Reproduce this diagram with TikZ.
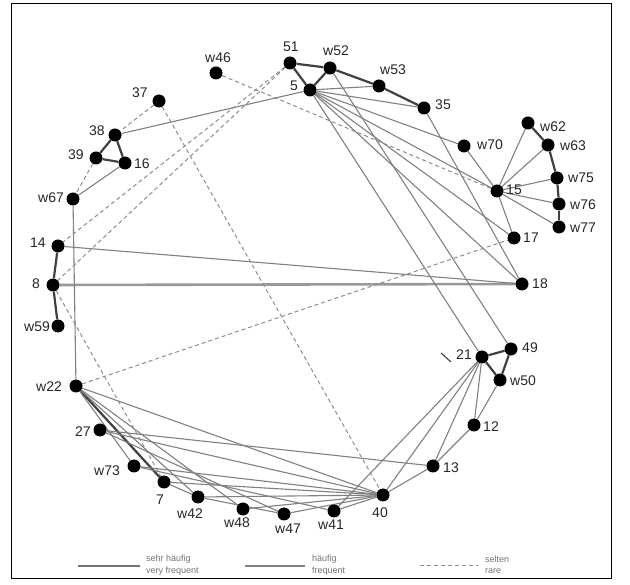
\documentclass[tikz,border=0pt]{standalone}
\usepackage{fontspec}
\setmainfont{Liberation Sans}
\pgfdeclarelayer{edges}
\pgfsetlayers{edges,main}
\begin{document}
\begin{tikzpicture}[x=1pt,y=-1pt,
  dot/.style={circle,fill=black,inner sep=0pt,minimum size=13pt},
  lbl/.style={font=\fontsize{14}{14}\selectfont,text=black!85,inner sep=0pt},
  leg/.style={font=\fontsize{9}{9}\selectfont,text=black!55,inner sep=0pt,anchor=west},
  vfreq/.style={draw=black!75,line width=2.2pt},
  freq/.style={draw=black!50,line width=1.1pt},
  rare/.style={draw=black!45,line width=1pt,dash pattern=on 4pt off 3pt},
]
\path[use as bounding box] (0,0) rectangle (630,585);
\draw[line width=1pt] (11,4) rectangle (611,578);

% actors on the ring
\foreach \n/\x/\y in {
  n51/290/63, w52/330/68, n5/310/90, w53/379/86, n35/424/108,
  w70/464/146, w62/528/123, w63/548/145, n15/497/191, w75/557/178,
  w76/559/204, w77/559/227, n17/514/238, n18/522/284, n49/511/349,
  n21/482/357, w50/500/380, n12/474/425, n13/433/466, n40/383/495,
  w41/334/511, w47/284/514, w48/243/509, w42/198/497, n7/164/482,
  w73/134/466, n27/100/430, w22/76/386, w59/58/326, n8/53/285,
  n14/58/246, w67/73/199, n39/96/158, n38/115/135, n16/125/163,
  n37/159/101, w46/216/73}
  \node[dot] (\n) at (\x,\y) {};

% labels
\foreach \n/\x/\y/\t in {
  l51/291/47/51, lw52/336/51/w52, l5/294/86/5, lw53/393/70/w53,
  l35/443/105/35, lw70/490/145/w70, lw62/553/127/w62, lw63/573/146/w63,
  l15/514/190/15, lw75/581/178/w75, lw76/583/205/w76, lw77/583/228/w77,
  l17/531/238/17, l18/540/284/18, l49/530/348/49, l21/464/355/21,
  lw50/523/381/w50, l12/491/427/12, l13/451/468/13, l40/380/513/40,
  lw41/331/525/w41, lw47/288/529/w47, lw48/237/523/w48, lw42/190/514/w42,
  l7/160/500/7, lw73/107/471/w73, l27/83/432/27, lw22/49/387/w22,
  lw59/37/327/w59, l8/36/284/8, l14/38/243/14, lw67/51/198/w67,
  l39/76/155/39, l38/97/131/38, l16/142/164/16, l37/140/93/37,
  lw46/218/58/w46}
  \node[lbl] (\n) at (\x,\y) {\t};

% small tick beside 21
\draw[black!80,line width=1pt] (441,353) -- (451,362);

\begin{pgfonlayer}{edges}
% very frequent
\foreach \a/\b in {n51/w52, n51/n5, w52/n5, w52/w53, w53/n35,
  n38/n39, n38/n16, n39/n16, n14/n8, n8/w59,
  w62/w63, w63/w75, w75/w76, w76/w77,
  n21/n49, n49/w50, n21/w50, w22/n7}
  \draw[vfreq] (\a) -- (\b);
\draw[vfreq,draw=black!40,line width=2.6pt] (n8) -- (n18);

% frequent
\foreach \a/\b in {n5/n38, n5/w53, n5/n35, n5/w70, n5/n15, n5/n17,
  n5/n18, n5/n21, w52/n49, n35/n18, w70/n15,
  n15/w62, n15/w63, n15/w75, n15/w76, n15/w77, n15/n17,
  n14/n18, w67/w22, w67/n16, n27/n13,
  n21/n12, w50/n12, n12/n13, n13/n40, n21/n13, n21/n40, n21/w41,
  w22/w73, w22/w42, w22/w48, w22/n40, n27/w47, n27/n40,
  w73/n40, w73/w41, n7/n40, n7/w42, w42/n40, w42/w47,
  w48/n40, w47/n40, w41/n40}
  \draw[freq] (\a) -- (\b);

% rare
\foreach \a/\b in {w46/n15, n51/n14, n51/n8, n37/n38, n37/n40,
  n39/w67, n8/n7, w22/n17}
  \draw[rare] (\a) -- (\b);
\end{pgfonlayer}

% legend
\coordinate (a1) at (78,566);  \coordinate (b1) at (140,566);
\coordinate (a2) at (245,566); \coordinate (b2) at (305,566);
\coordinate (a3) at (420,566); \coordinate (b3) at (478,566);
\draw[vfreq,draw=black!55] (a1) -- (b1);
\draw[freq] (a2) -- (b2);
\draw[rare] (a3) -- (b3);
\node[leg] (t1a) at (146,559) {sehr häufig};
\node[leg] (t1b) at (146,571) {very frequent};
\node[leg] (t2a) at (312,559) {häufig};
\node[leg] (t2b) at (312,571) {frequent};
\node[leg] (t3a) at (485,559) {selten};
\node[leg] (t3b) at (485,571) {rare};
\end{tikzpicture}
\end{document}
